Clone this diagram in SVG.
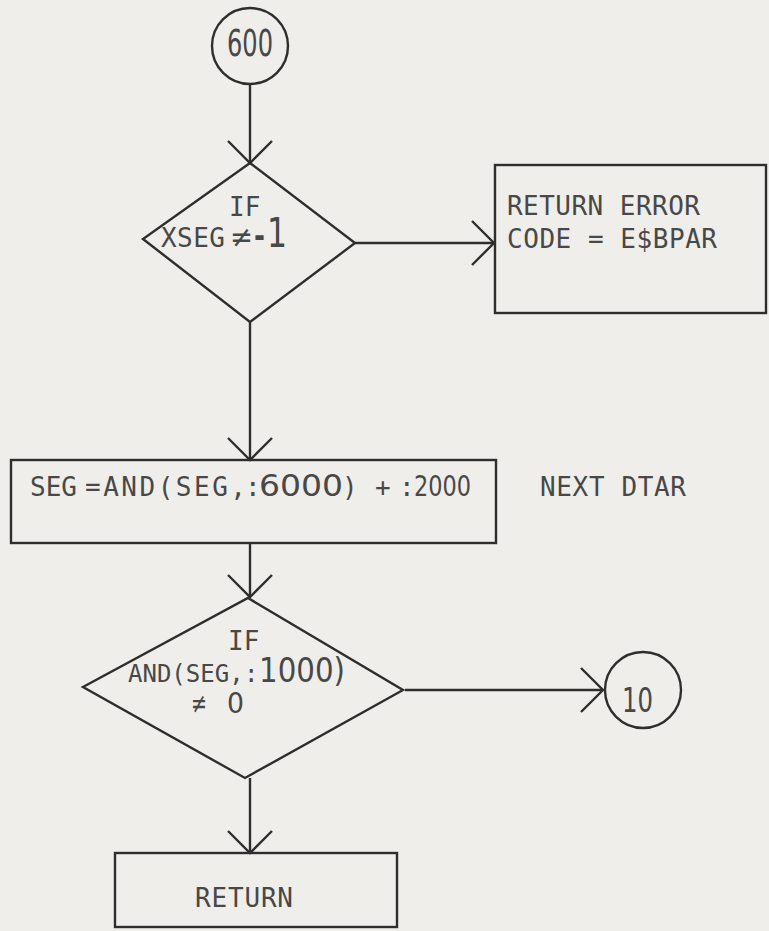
<svg xmlns="http://www.w3.org/2000/svg" width="769" height="931" viewBox="0 0 769 931">
<style>
.shape{fill:none;stroke:#2e2e2e;stroke-width:2.4;stroke-linejoin:miter}
.conn{fill:none;stroke:#2e2e2e;stroke-width:2.4}
.t{font-family:"DejaVu Sans Mono","Liberation Mono",monospace;font-size:26px;fill:#484848}
.s{font-size:24px}
.d{font-family:"DejaVu Sans","Liberation Sans",sans-serif;fill:#484848}
</style>
<defs>
<marker id="v" markerUnits="userSpaceOnUse" viewBox="0 0 26 50" refX="24" refY="25" markerWidth="26" markerHeight="50" orient="auto" overflow="visible">
<path d="M2,3 L24,25 L2,47" fill="none" stroke="#2e2e2e" stroke-width="2.4"/>
</marker>
</defs>
<rect x="0" y="0" width="769" height="931" fill="#efeeea"/>

<g id="connectors">
<line class="conn" x1="250" y1="84" x2="250" y2="163" marker-end="url(#v)"/>
<line class="conn" x1="355" y1="243" x2="494" y2="243" marker-end="url(#v)"/>
<line class="conn" x1="250" y1="322" x2="250" y2="460" marker-end="url(#v)"/>
<line class="conn" x1="250" y1="543" x2="250" y2="597" marker-end="url(#v)"/>
<line class="conn" x1="405" y1="690" x2="603" y2="690" marker-end="url(#v)"/>
<line class="conn" x1="250" y1="778" x2="250" y2="853" marker-end="url(#v)"/>
</g>

<g id="start600">
<circle class="shape" cx="250" cy="46" r="38"/>
<text class="d" x="227" y="56" font-size="38" textLength="46" lengthAdjust="spacingAndGlyphs">600</text>
</g>

<g id="decision1">
<polygon class="shape" points="250,163 355,243 250,322 143,239"/>
<text class="t" x="229" y="216">IF</text>
<text class="t" y="247"><tspan x="161" textLength="64">XSEG</tspan><tspan class="d" x="230" font-size="30" textLength="23" lengthAdjust="spacingAndGlyphs">≠</tspan><tspan class="d" x="254" font-size="34" font-weight="bold" textLength="11" lengthAdjust="spacingAndGlyphs">-</tspan><tspan class="d" x="267" font-size="40" textLength="20" lengthAdjust="spacingAndGlyphs">1</tspan></text>
</g>

<g id="errorBox">
<rect class="shape" x="495" y="165" width="271" height="148"/>
<text class="t" x="507" y="215" textLength="193">RETURN ERROR</text>
<text class="t" x="507" y="248" textLength="210">CODE = E$BPAR</text>
</g>

<g id="segBox">
<rect class="shape" x="11" y="460" width="485" height="83"/>
<text class="t" y="496"><tspan x="30" textLength="47">SEG</tspan><tspan x="85" textLength="161">=AND(SEG,</tspan><tspan x="245">:</tspan><tspan class="d" x="259" font-size="31" textLength="84" lengthAdjust="spacingAndGlyphs">6000</tspan><tspan x="342">)</tspan><tspan x="375">+</tspan><tspan x="399">:</tspan><tspan class="d" x="414" font-size="29" textLength="57" lengthAdjust="spacingAndGlyphs">2000</tspan></text>
</g>

<g id="note">
<text class="t" x="540" y="496" textLength="146">NEXT DTAR</text>
</g>

<g id="decision2">
<polygon class="shape" points="248,598 403,690 245,778 83,687"/>
<text class="t" x="228" y="650">IF</text>
<text class="t s" y="682"><tspan x="128">AND(SEG,</tspan><tspan x="244">:</tspan><tspan class="d" x="259" font-size="34" textLength="86" lengthAdjust="spacingAndGlyphs">1000)</tspan></text>
<text class="t" y="713"><tspan class="d" x="191" font-size="28" textLength="16" lengthAdjust="spacingAndGlyphs">≠</tspan><tspan class="d" x="227" font-size="29" textLength="17" lengthAdjust="spacingAndGlyphs">0</tspan></text>
</g>

<g id="goto10">
<circle class="shape" cx="643" cy="690" r="38"/>
<text class="d" x="622" y="712" font-size="34" textLength="31" lengthAdjust="spacingAndGlyphs">10</text>
</g>

<g id="returnBox">
<rect class="shape" x="115" y="853" width="282" height="74"/>
<text class="t" x="195" y="907" textLength="98">RETURN</text>
</g>
</svg>
